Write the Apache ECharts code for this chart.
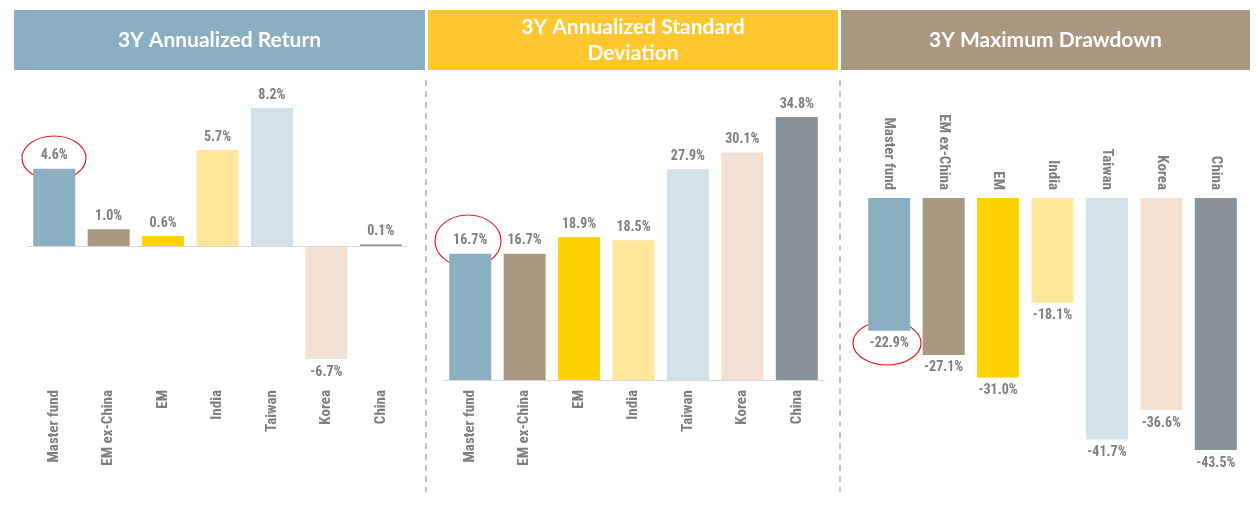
<!DOCTYPE html>
<html><head><meta charset="utf-8">
<script src="https://cdn.jsdelivr.net/npm/echarts@6/dist/echarts.min.js"></script>
<style>html,body{margin:0;padding:0;background:#fff}#c{width:1256px;height:506px}</style>
</head><body><div id="c"></div>
<script>
const categories = ['Master fund','EM ex-China','EM','India','Taiwan','Korea','China'];
const returnVals = [4.6, 1.0, 0.6, 5.7, 8.2, -6.7, 0.1];
const stdevVals = [16.7, 16.7, 18.9, 18.5, 27.9, 30.1, 34.8];
const drawdownVals = [-22.9, -27.1, -31.0, -18.1, -41.7, -36.6, -43.5];
const barColors = ['#8aafc0','#a89882','#fed100','#fee79a','#d3e1e8','#f3e2d4','#87919a'];
const titles = ['3Y Annualized Return','3Y Annualized Standard\nDeviation','3Y Maximum Drawdown'];
const headerColors = ['#8aafc0','#fec72e','#aa9782'];

const FONT = "'Liberation Sans Narrow','Roboto Condensed','Liberation Sans',sans-serif";
const labelColor = '#7f7f7f';
const chart = echarts.init(document.getElementById('c'));

const grids = [
  {left:27, width:381, top:108, height:251},
  {left:443, width:381, top:117, height:263},
  {left:862, width:381, top:198, height:252}
];
const yRanges = [[-6.7,8.2],[0,34.8],[-43.5,0]];
const datasets = [returnVals, stdevVals, drawdownVals];
const xPos = ['bottom','bottom','top'];
const xMargin = [31,10,8];

const xAxes = [], yAxes = [], series = [];
for (let i=0;i<3;i++){
  xAxes.push({gridIndex:i,type:'category',data:categories,position:xPos[i],
    axisLine:{show:i===1,onZero:false,lineStyle:{color:'#d9d9d9'}},axisTick:{show:false},
    axisLabel:{rotate:90,margin:xMargin[i],color:labelColor,fontFamily:FONT,fontWeight:'bold',fontSize:15}});
  yAxes.push({gridIndex:i,type:'value',min:yRanges[i][0],max:yRanges[i][1],show:false,splitLine:{show:false}});
  series.push({type:'bar',xAxisIndex:i,yAxisIndex:i,barWidth:42,
    data:datasets[i].map((v,k)=>({value:v,itemStyle:{color:barColors[k]},
      label:{position:v<0?'bottom':'top'}})),
    label:{show:true,color:labelColor,fontFamily:FONT,fontWeight:'bold',fontSize:14,distance:6,
      formatter:p=>p.value.toFixed(1)+'%'},
    markLine: i===0 ? {silent:true,symbol:'none',label:{show:false},
      lineStyle:{color:'#d9d9d9',type:'solid',width:1},data:[{yAxis:0}]} : undefined
  });
}

const graphic = [];
const hx = [[14,411],[428,410],[841,409]];
for (let i=0;i<3;i++){
  graphic.push({type:'rect',left:hx[i][0],top:10,shape:{width:hx[i][1],height:60},style:{fill:headerColors[i]}});
  graphic.push({type:'text',x:hx[i][0]+hx[i][1]/2,y:40,style:{text:titles[i],fill:'#fff',
    font:"bold 21px Lato, 'Open Sans', sans-serif",align:'center',verticalAlign:'middle',lineHeight:26}});
}
[426,840].forEach(x=>graphic.push({type:'line',shape:{x1:x,y1:80,x2:x,y2:492},
  style:{stroke:'#b0b0b0',lineWidth:1.5,lineDash:[6,5]}}));
[[54,158,32,22],[468,241,33,26],[887,343,34,22]].forEach(e=>graphic.push({type:'ellipse',
  shape:{cx:e[0],cy:e[1],rx:e[2],ry:e[3]},style:{fill:'none',stroke:'#e02020',lineWidth:1.2}}));

chart.setOption({animation:false,grid:grids,xAxis:xAxes,yAxis:yAxes,series:series,graphic:graphic});
</script></body></html>
